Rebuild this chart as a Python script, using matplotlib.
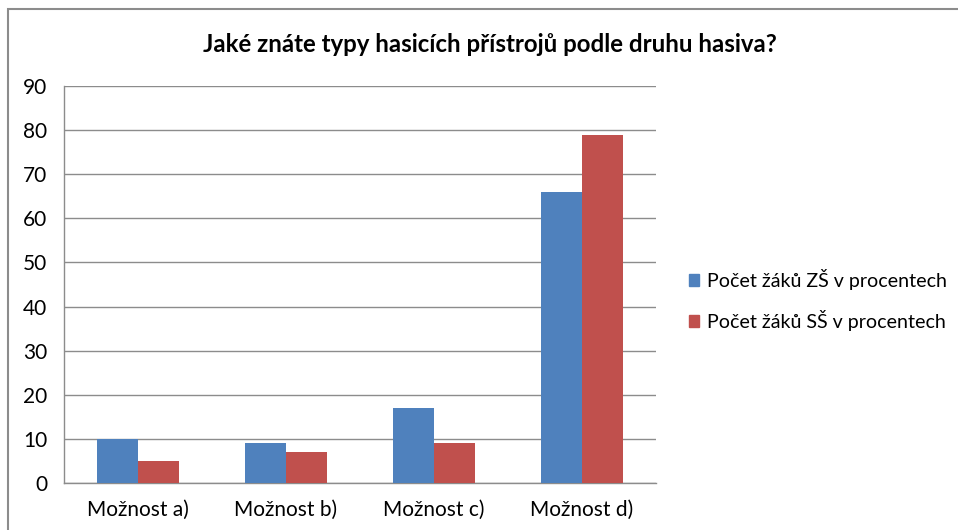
import numpy as np
import matplotlib
matplotlib.use('Agg')
import matplotlib.pyplot as plt
from matplotlib.patches import Rectangle, Patch

plt.rcParams['font.family'] = ['Lato', 'DejaVu Sans']

categories = ['Možnost a)', 'Možnost b)', 'Možnost c)', 'Možnost d)']
zs_values = [10, 9, 17, 66]
ss_values = [5, 7, 9, 79]
series_names = ['Počet žáků ZŠ v procentech', 'Počet žáků SŠ v procentech']
colors = ['#4f81bd', '#c0504d']
title = 'Jaké znáte typy hasicích přístrojů podle druhu hasiva?'

fig = plt.figure(figsize=(9.58, 5.30), dpi=100)
W, H = 958, 530

# outer chart frame
fig.patches.append(Rectangle((8 / W, -0.05), 1.1, 1.05 - 9 / H,
                             transform=fig.transFigure, fill=False,
                             edgecolor='#8c8c8c', linewidth=1.5))

ax = fig.add_axes([64 / W, 47 / H, 592 / W, 397 / H])

x = np.arange(len(categories))
w = 0.277
ax.bar(x - w / 2, zs_values, w, color=colors[0], zorder=3)
ax.bar(x + w / 2, ss_values, w, color=colors[1], zorder=3)

ax.set_xlim(-0.5, len(categories) - 0.5)
ax.set_ylim(0, 90)
ax.set_yticks(np.arange(0, 91, 10))
ax.set_xticks(x)
ax.set_xticklabels(categories)
ax.yaxis.grid(True, color='#8c8c8c', linewidth=1.0, zorder=0)
ax.tick_params(axis='both', length=0, labelsize=15, colors='#000000')
ax.tick_params(axis='y', pad=12)
ax.tick_params(axis='x', pad=12)
for side in ['top', 'right']:
    ax.spines[side].set_visible(False)
for side in ['left', 'bottom']:
    ax.spines[side].set_color('#8c8c8c')
    ax.spines[side].set_linewidth(1.0)

fig.text(490 / W, 1 - 45 / H, title, ha='center', va='center',
         fontsize=17.3, fontweight='bold')

handles = [Patch(color=c, label=n) for c, n in zip(colors, series_names)]
fig.legend(handles=handles, loc='center left', bbox_to_anchor=(671 / W, 1 - 300 / H),
           frameon=False, fontsize=14.1, handlelength=0.55, handleheight=0.55,
           handletextpad=0.4, labelspacing=1.0)

fig.savefig('out.png', dpi=100)
